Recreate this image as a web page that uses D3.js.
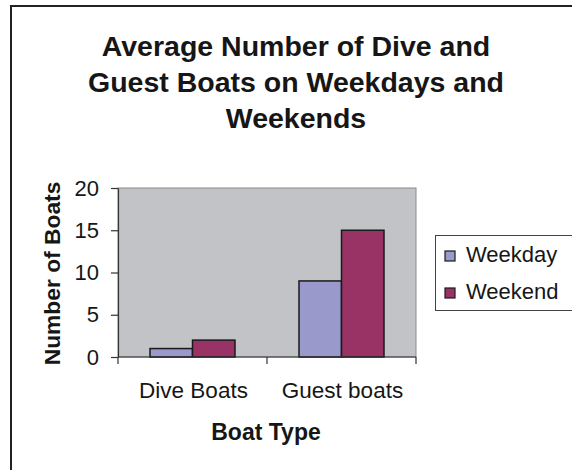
<!DOCTYPE html>
<html>
<head>
<meta charset="utf-8">
<script src="https://cdn.jsdelivr.net/npm/d3@7"></script>
<style>
  html, body { margin: 0; padding: 0; background: #fff; }
  svg { display: block; }
  text { font-family: "Liberation Sans", Arial, Helvetica, sans-serif; fill: #161616; }
</style>
</head>
<body>
<svg id="chart" width="572" height="470"></svg>
<script>
// Boat counts by type, split into weekday and weekend averages
const categories = ["Dive Boats", "Guest boats"];
const seriesNames = ["Weekday", "Weekend"];
const weekday = [1, 9];
const weekend = [2, 15];
const yTicks = [0, 5, 10, 15, 20];
const titleLines = ["Average Number of Dive and", "Guest Boats on Weekdays and", "Weekends"];

const seriesValues = { Weekday: weekday, Weekend: weekend };
const colors = { Weekday: "#9999cc", Weekend: "#993366" };

const svg = d3.select("#chart");

// Outer chart frame (runs off the right and bottom edges)
svg.append("rect")
  .attr("x", 11).attr("y", 6)
  .attr("width", 600).attr("height", 500)
  .attr("fill", "none").attr("stroke", "#222").attr("stroke-width", 2);

// Title
const title = svg.append("text")
  .attr("text-anchor", "middle")
  .attr("font-weight", "bold")
  .attr("font-size", 28.5);
titleLines.forEach((line, i) => {
  title.append("tspan").attr("x", 296).attr("y", 56 + i * 36).text(line);
});

// Plot area
const plot = { left: 118, right: 416, top: 188, bottom: 357 };

const y = d3.scaleLinear().domain([0, 20]).range([plot.bottom, plot.top]);
const x0 = d3.scaleBand().domain(categories).range([plot.left, plot.right]).padding(0);
const x1 = d3.scaleBand().domain(seriesNames).range([0, x0.bandwidth()])
  .paddingInner(0).paddingOuter(0.753);

svg.append("rect")
  .attr("x", plot.left).attr("y", plot.top)
  .attr("width", plot.right - plot.left).attr("height", plot.bottom - plot.top)
  .attr("fill", "#c2c3c7").attr("stroke", "#8a8a8a").attr("stroke-width", 1);

// Bars
const groups = svg.append("g").selectAll("g")
  .data(categories)
  .join("g")
  .attr("transform", d => `translate(${x0(d)},0)`);

groups.selectAll("rect")
  .data((d, i) => seriesNames.map(s => ({ s, v: seriesValues[s][i] })))
  .join("rect")
  .attr("x", d => x1(d.s))
  .attr("y", d => y(d.v))
  .attr("width", x1.bandwidth())
  .attr("height", d => y(0) - y(d.v))
  .attr("fill", d => colors[d.s])
  .attr("stroke", "#1a1a1a")
  .attr("stroke-width", 1.5);

// Y axis
const yAxis = svg.append("g")
  .attr("transform", `translate(${plot.left},0)`)
  .call(d3.axisLeft(y).tickValues(yTicks).tickSize(7).tickPadding(12).tickSizeOuter(0));
yAxis.select(".domain").attr("stroke", "#333").attr("stroke-width", 1.2);
yAxis.selectAll(".tick line").attr("stroke", "#333").attr("stroke-width", 1.2);
yAxis.selectAll(".tick text")
  .attr("font-size", 22)
  .attr("font-family", "Liberation Sans, Arial, sans-serif")
  .attr("fill", "#161616");

// X axis: line along zero with ticks at category boundaries
const xAxis = svg.append("g");
xAxis.append("line")
  .attr("x1", plot.left).attr("x2", plot.right)
  .attr("y1", y(0)).attr("y2", y(0))
  .attr("stroke", "#333").attr("stroke-width", 1.2);
const boundaries = categories.map(c => x0(c)).concat([x0(categories[categories.length - 1]) + x0.bandwidth()]);
xAxis.selectAll("line.tick")
  .data(boundaries)
  .join("line")
  .attr("class", "tick")
  .attr("x1", d => d).attr("x2", d => d)
  .attr("y1", y(0)).attr("y2", y(0) + 7)
  .attr("stroke", "#333").attr("stroke-width", 1.2);
xAxis.selectAll("text")
  .data(categories)
  .join("text")
  .attr("x", d => x0(d) + x0.bandwidth() / 2 + 1)
  .attr("y", 398)
  .attr("text-anchor", "middle")
  .attr("font-size", 22.5)
  .text(d => d);

// Axis titles
svg.append("text")
  .attr("x", 266).attr("y", 440)
  .attr("text-anchor", "middle")
  .attr("font-weight", "bold")
  .attr("font-size", 23)
  .text("Boat Type");

svg.append("text")
  .attr("transform", `translate(60,${(plot.top + plot.bottom) / 2 + 1}) rotate(-90)`)
  .attr("text-anchor", "middle")
  .attr("font-weight", "bold")
  .attr("font-size", 22.8)
  .text("Number of Boats");

// Legend
const legend = svg.append("g");
legend.append("rect")
  .attr("x", 435.5).attr("y", 235.5)
  .attr("width", 160).attr("height", 75)
  .attr("fill", "#fff").attr("stroke", "#444").attr("stroke-width", 1);
const items = legend.selectAll("g.item")
  .data(seriesNames)
  .join("g")
  .attr("class", "item")
  .attr("transform", (d, i) => `translate(0,${i * 37})`);
items.append("rect")
  .attr("x", 445).attr("y", 251)
  .attr("width", 10).attr("height", 10)
  .attr("fill", d => colors[d])
  .attr("stroke", "#1a1a1a").attr("stroke-width", 1.2);
items.append("text")
  .attr("x", 466).attr("y", 262)
  .attr("font-size", 22)
  .text(d => d);
</script>
</body>
</html>
